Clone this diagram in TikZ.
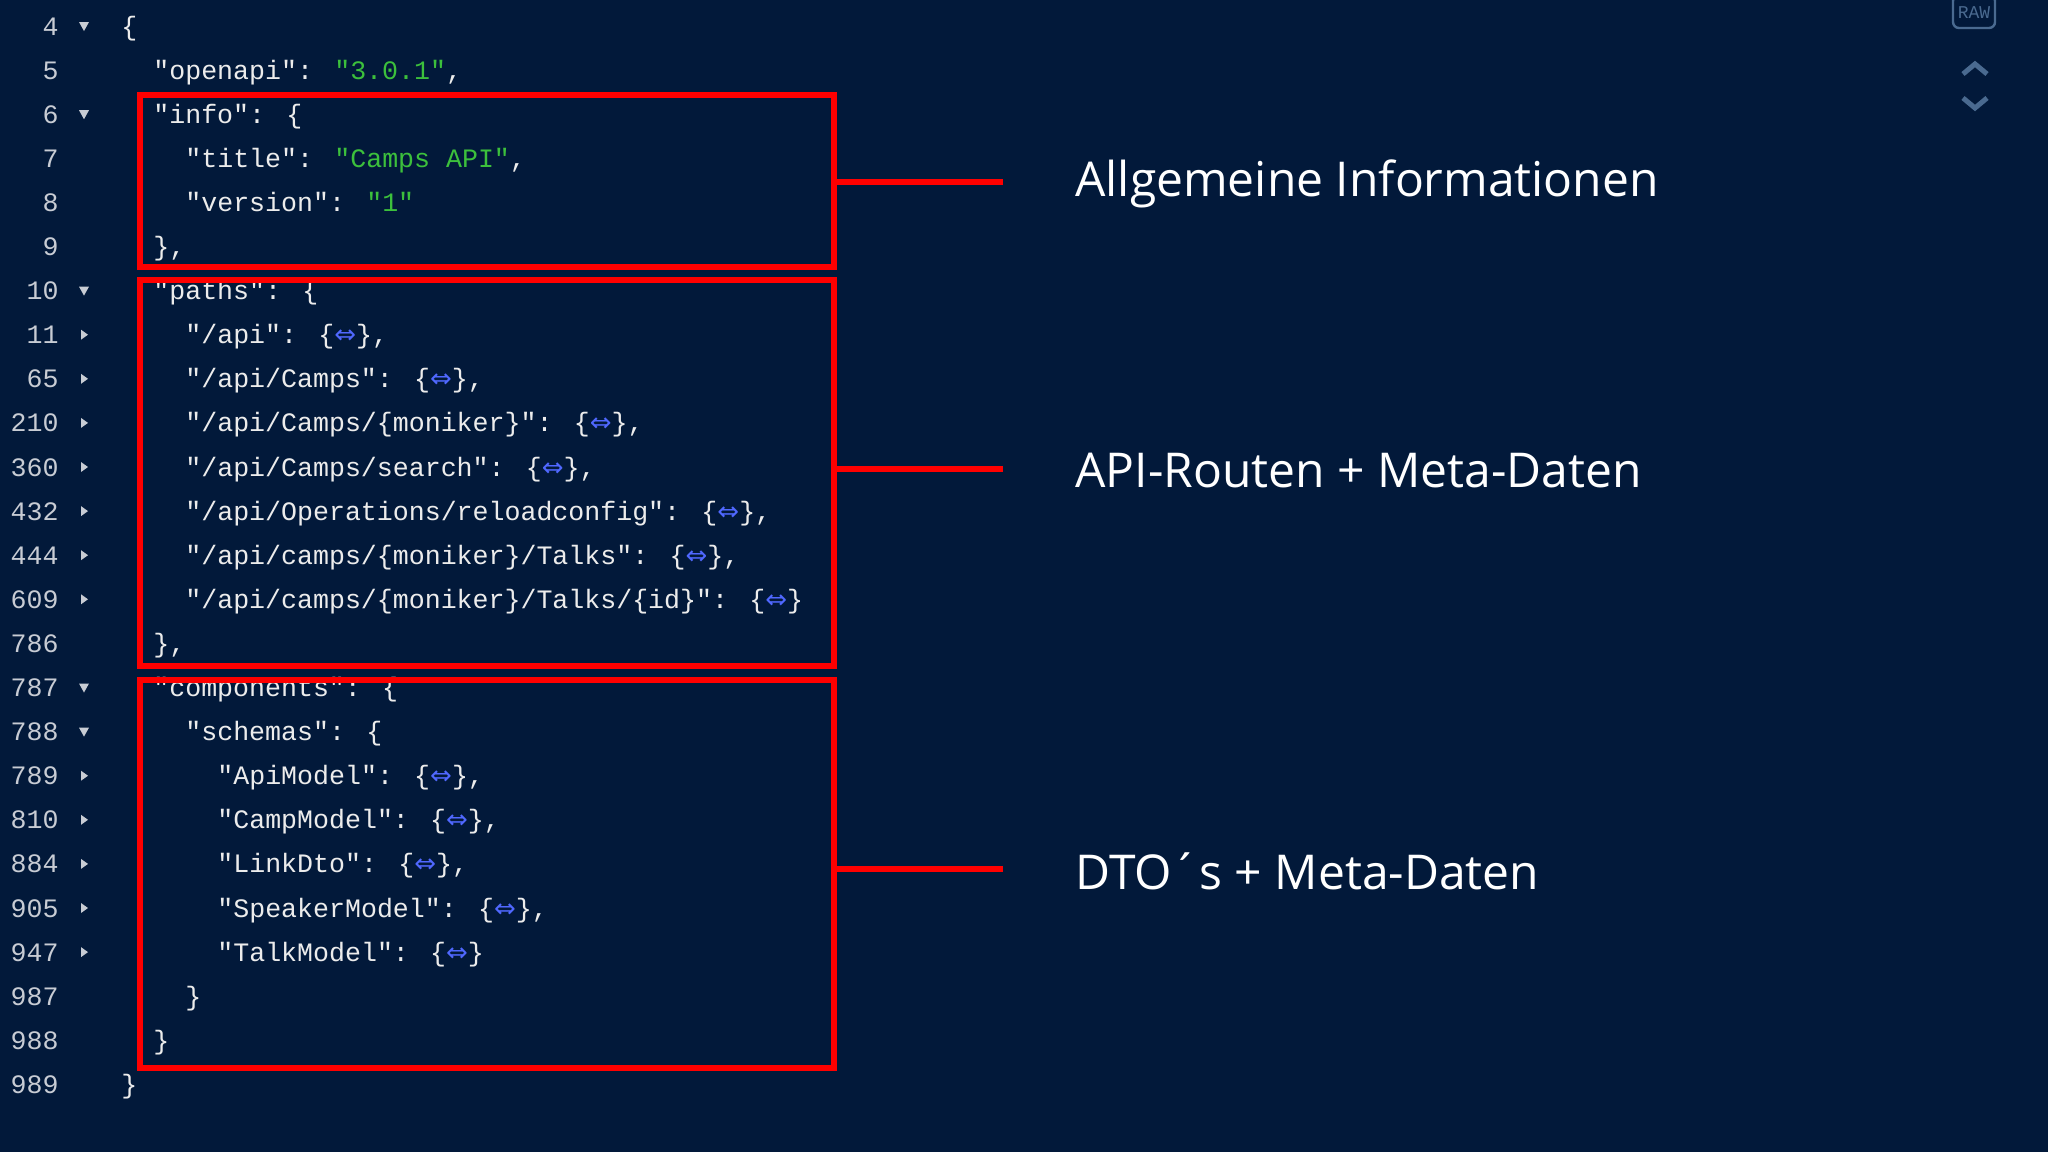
\documentclass[tikz,border=0pt]{standalone}
\usepackage{fontspec}
\setmainfont{Open Sans}
\newfontfamily\code{Liberation Mono}
\newfontfamily\djvs{DejaVu Sans}
\definecolor{bg}{HTML}{02193A}
\definecolor{strg}{HTML}{3CC03C}
\definecolor{arr}{HTML}{5068FF}
\definecolor{num}{HTML}{C8CCD4}
\definecolor{txt}{HTML}{ECECEC}
\definecolor{ui}{HTML}{4A6A90}
\newcommand{\g}[1]{\textcolor{strg}{#1}}
\newcommand{\ar}{{\color{arr}\djvs\fontsize{13}{13}\selectfont ⇔}}
\tikzset{x=0.5pt,y=-0.5pt,
 ln/.style={anchor=base east,text=num,font=\code\fontsize{13.3}{14}\selectfont,inner sep=0},
 cd/.style={anchor=base west,text=txt,font=\code\fontsize{13.3}{14}\selectfont,inner sep=0},
 box/.style={draw=red,line width=3.3pt},
 con/.style={draw=red,line width=3pt},
 lab/.style={anchor=west,text=white,font=\fontsize{24}{28}\selectfont,inner sep=0},
}
\newcommand{\cl}[4]{%
 \node[ln] (n#2) at (59,{35+44.1*#2}) {#1};
 \node[cd] (c#2) at ({121+32*#3},{35+44.1*#2}) {#4};}
\newcommand{\tdn}[1]{\fill[num] (79,{22+44.1*#1}) -- (89,{22+44.1*#1}) -- (84,{31+44.1*#1}) -- cycle;}
\newcommand{\trt}[1]{\fill[num] (81,{21+44.1*#1}) -- (88,{26+44.1*#1}) -- (81,{31+44.1*#1}) -- cycle;}
\begin{document}
\begin{tikzpicture}
\fill[bg] (0,0) rectangle (2048,1152);
\useasboundingbox (0,0) rectangle (2048,1152);
% UI
\draw[ui,line width=1.2pt,rounded corners=3pt] (1953,-5) rectangle (1995,28);
\node[text=ui,font=\code\fontsize{9}{9}\selectfont,inner sep=0] (raw) at (1974,13) {RAW};
\draw[ui,line width=2.5pt] (1963,74) -- (1975,64) -- (1987,74);
\draw[ui,line width=2.5pt] (1963,98) -- (1975,108) -- (1987,98);
% code
\cl{4}{0}{0}{\{}
\cl{5}{1}{1}{"openapi": \g{"3.0.1"},}
\cl{6}{2}{1}{"info": \{}
\cl{7}{3}{2}{"title": \g{"Camps API"},}
\cl{8}{4}{2}{"version": \g{"1"}}
\cl{9}{5}{1}{\},}
\cl{10}{6}{1}{"paths": \{}
\cl{11}{7}{2}{"/api": \{\ar\},}
\cl{65}{8}{2}{"/api/Camps": \{\ar\},}
\cl{210}{9}{2}{"/api/Camps/\{moniker\}": \{\ar\},}
\cl{360}{10}{2}{"/api/Camps/search": \{\ar\},}
\cl{432}{11}{2}{"/api/Operations/reloadconfig": \{\ar\},}
\cl{444}{12}{2}{"/api/camps/\{moniker\}/Talks": \{\ar\},}
\cl{609}{13}{2}{"/api/camps/\{moniker\}/Talks/\{id\}": \{\ar\}}
\cl{786}{14}{1}{\},}
\cl{787}{15}{1}{"components": \{}
\cl{788}{16}{2}{"schemas": \{}
\cl{789}{17}{3}{"ApiModel": \{\ar\},}
\cl{810}{18}{3}{"CampModel": \{\ar\},}
\cl{884}{19}{3}{"LinkDto": \{\ar\},}
\cl{905}{20}{3}{"SpeakerModel": \{\ar\},}
\cl{947}{21}{3}{"TalkModel": \{\ar\}}
\cl{987}{22}{2}{\}}
\cl{988}{23}{1}{\}}
\cl{989}{24}{0}{\}}
\tdn{0}\tdn{2}\tdn{6}\tdn{15}\tdn{16}
\foreach \i in {7,...,13,17,18,19,20,21} {\trt{\i}}
% boxes
\draw[box] (140,95) rectangle (834,267);
\draw[box] (140,280) rectangle (834,666);
\draw[box] (140,680) rectangle (834,1068);
\coordinate (b1) at (834,182);
\coordinate (b2) at (834,469);
\coordinate (b3) at (834,869);
\node[lab] (l1) at (1075,184) {Allgemeine Informationen};
\node[lab] (l2) at (1075,471) {API-Routen + Meta-Daten};
\node[lab] (l3) at (1075,871) {DTO´s + Meta-Daten};
\coordinate (e1) at (1003,182);
\coordinate (e2) at (1003,469);
\coordinate (e3) at (1003,869);
\draw[con] (b1) -- (e1);
\draw[con] (b2) -- (e2);
\draw[con] (b3) -- (e3);
\end{tikzpicture}
\end{document}
